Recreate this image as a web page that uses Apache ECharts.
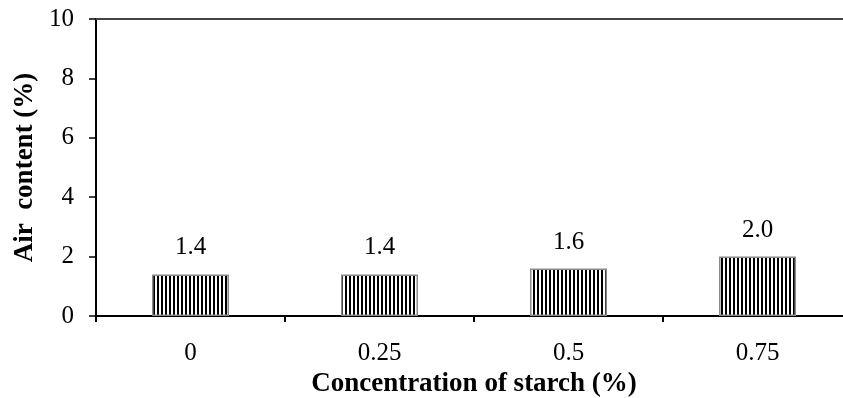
<!DOCTYPE html>
<html>
<head>
<meta charset="utf-8">
<script src="https://cdn.jsdelivr.net/npm/echarts@6/dist/echarts.min.js"></script>
<style>
  html, body { margin: 0; padding: 0; background: #fff; }
  #chart { width: 843px; height: 398px; }
</style>
</head>
<body>
<div id="chart"></div>
<script>
// Air content by starch concentration
const categories = ['0', '0.25', '0.5', '0.75'];
const airContent = [1.4, 1.4, 1.6, 2.0];
const yTicks = [0, 2, 4, 6, 8, 10];

// Vertical-stripe fill for the bars
function stripePattern() {
  const c = document.createElement('canvas');
  c.width = 4; c.height = 4;
  const g = c.getContext('2d');
  g.fillStyle = '#ffffff';
  g.fillRect(0, 0, 4, 4);
  g.fillStyle = '#000000';
  g.fillRect(1, 0, 2, 4);
  return c;
}

const serif = '"Liberation Serif", "Times New Roman", serif';
const chart = echarts.init(document.getElementById('chart'), null, { renderer: 'canvas' });

chart.setOption({
  animation: false,
  backgroundColor: '#ffffff',
  grid: { left: 96, top: 19, width: 756, height: 297, containLabel: false, outerBoundsMode: 'none' },
  xAxis: [{
    type: 'category',
    data: categories,
    position: 'bottom',
    boundaryGap: true,
    axisLine: { lineStyle: { color: '#000', width: 2 } },
    axisTick: { show: true, length: 6, alignWithLabel: false, lineStyle: { color: '#000', width: 2 } },
    axisLabel: { color: '#000', fontFamily: serif, fontSize: 25, margin: 25 },
    name: 'Concentration of starch (%)',
    nameLocation: 'middle',
    nameGap: 51,
    nameTextStyle: { color: '#000', fontFamily: serif, fontSize: 27, fontWeight: 'bold' }
  }, {
    type: 'category',
    data: categories,
    position: 'top',
    axisLine: { lineStyle: { color: '#444', width: 2 } },
    axisTick: { show: false },
    axisLabel: { show: false }
  }],
  yAxis: {
    type: 'value',
    min: yTicks[0],
    max: yTicks[yTicks.length - 1],
    interval: 2,
    axisLine: { show: true, lineStyle: { color: '#000', width: 2 } },
    axisTick: { show: true, length: 7, lineStyle: { color: '#000', width: 1.5 } },
    splitLine: { show: false },
    axisLabel: { color: '#000', fontFamily: serif, fontSize: 25, margin: 22 },
    name: 'Air  content (%)',
    nameLocation: 'middle',
    nameGap: 56,
    nameRotate: 90,
    nameTextStyle: { color: '#000', fontFamily: serif, fontSize: 27, fontWeight: 'bold' }
  },
  series: [{
    type: 'bar',
    xAxisIndex: 0,
    data: airContent,
    barWidth: 77,
    itemStyle: {
      color: { image: stripePattern(), repeat: 'repeat' },
      borderColor: '#8a8a8a',
      borderWidth: 1.5
    },
    label: {
      show: true,
      position: 'top',
      distance: 14,
      color: '#000',
      fontFamily: serif,
      fontSize: 25,
      formatter: p => p.value.toFixed(1)
    }
  }]
});
</script>
</body>
</html>
